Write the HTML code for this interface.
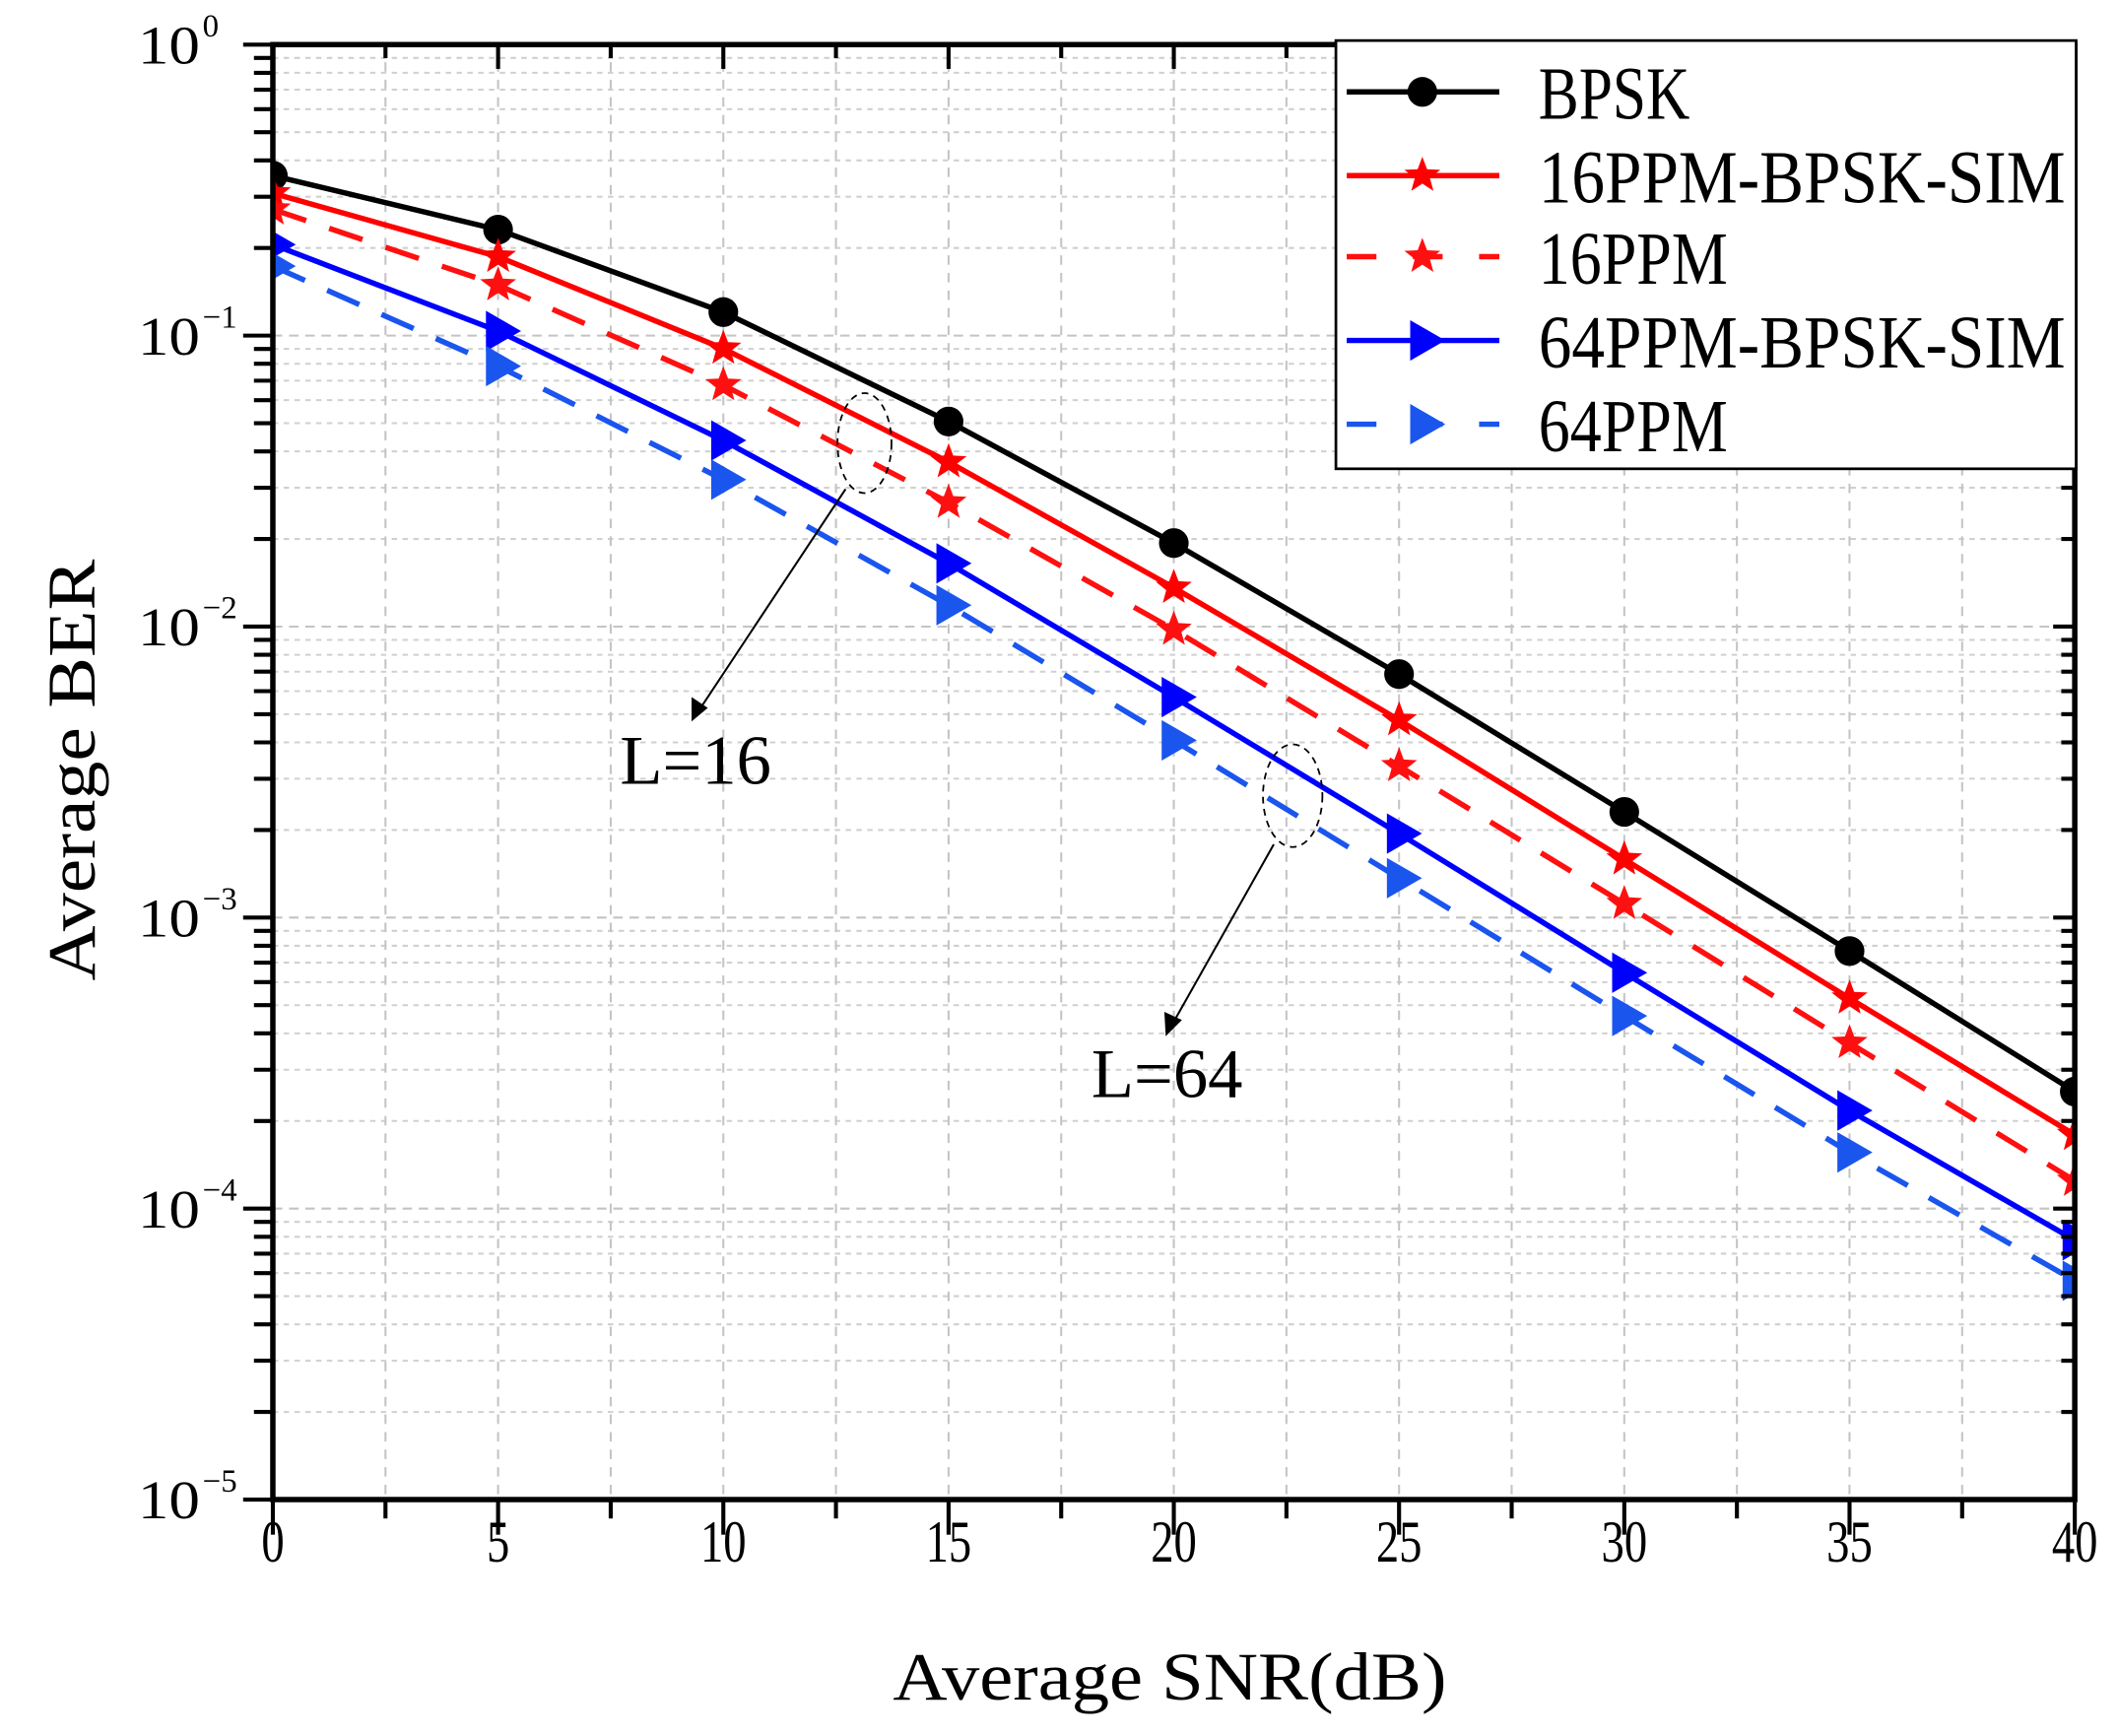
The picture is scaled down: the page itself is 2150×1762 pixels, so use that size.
<!DOCTYPE html>
<html><head><meta charset="utf-8"><style>
html,body{margin:0;padding:0;background:#fff}
svg{display:block}
text{font-family:"Liberation Serif",serif;fill:#000}
</style></head><body>
<svg id="s" xmlns="http://www.w3.org/2000/svg" width="2150" height="1762" viewBox="0 0 1568 1285">
<defs><clipPath id="cp"><rect x="202" y="33" width="1334" height="1077"/></clipPath></defs>
<g id="grid"></g>
<g id="series" clip-path="url(#cp)"></g>
<g id="axes"></g>
<g id="ann">
 <ellipse cx="640" cy="328" rx="20" ry="37" fill="none" stroke="#000" stroke-width="1.3" stroke-dasharray="5,4"/>
 <line x1="626" y1="362" x2="518" y2="525" stroke="#000" stroke-width="1.5"/>
 <polygon points="512,534 512,516 524,524" fill="#000"/>
 <text x="459" y="580" font-size="52" textLength="112" lengthAdjust="spacingAndGlyphs">L=16</text>
 <ellipse cx="957" cy="589" rx="22" ry="38" fill="none" stroke="#000" stroke-width="1.3" stroke-dasharray="5,4"/>
 <line x1="943" y1="625" x2="868" y2="758" stroke="#000" stroke-width="1.5"/>
 <polygon points="863,767 862,749 875,755" fill="#000"/>
 <text x="808" y="812" font-size="52" textLength="112" lengthAdjust="spacingAndGlyphs">L=64</text>
</g>
<g id="legend"></g>
</svg>
<script>
const NS="http://www.w3.org/2000/svg";
function el(p,t,a,txt){const e=document.createElementNS(NS,t);for(const k in a)e.setAttribute(k,a[k]);if(txt!==undefined)e.textContent=txt;document.getElementById(p).appendChild(e);return e;}
const X0=202,X1=1536,Y0=33,DEC=215.4;
const xp=v=>X0+(X1-X0)*v/40;
for(let d=0;d<5;d++){for(let m=2;m<=9;m++){const y=Y0+DEC*(d+1-Math.log10(m));
 el('grid','line',{x1:X0,x2:X1,y1:y,y2:y,stroke:'#d0d0d0','stroke-width':1.5,'stroke-dasharray':'4,4'});}
 if(d>0){const y=Y0+DEC*d;el('grid','line',{x1:X0,x2:X1,y1:y,y2:y,stroke:'#c4c4c4','stroke-width':1.5,'stroke-dasharray':'7,5'});}}
for(let i=1;i<16;i++){const x=xp(i*2.5);el('grid','line',{x1:x,x2:x,y1:Y0,y2:1110,stroke:'#c4c4c4','stroke-width':1.5,'stroke-dasharray':'7,6'});}
const xs=[0,5,10,15,20,25,30,35,40];
const S=[
 {c:'#000',d:false,m:'o',y:[130,170,231,312,402,499,601,704,808]},
 {c:'#ff0000',d:false,m:'s',y:[143,190,258,342,435,533,636,739,840]},
 {c:'#ff1010',d:true,m:'s',y:[155,211,285,372,466,567,669,772,874]},
 {c:'#0000ff',d:false,m:'t',y:[181,245,326,417,516,617,720,822,918]},
 {c:'#1a55ee',d:true,m:'t',y:[197,271,355,448,548,650,752,853,948]}];
function star(cx,cy,r){let p=[];for(let i=0;i<10;i++){const a=-Math.PI/2+i*Math.PI/5,rr=i%2?r*0.42:r;p.push((cx+rr*Math.cos(a)).toFixed(1)+','+(cy+rr*Math.sin(a)).toFixed(1));}return p.join(' ');}
function marker(g,m,cx,cy,c){
 if(m==='o')el(g,'circle',{cx:cx,cy:cy,r:11,fill:c});
 else if(m==='s')el(g,'polygon',{points:star(cx,cy,14),fill:c});
 else el(g,'polygon',{points:`${cx-9},${cy-15} ${cx+17},${cy} ${cx-9},${cy+15}`,fill:c});}
S.forEach(s=>{const pts=xs.map((x,i)=>xp(x)+','+s.y[i]).join(' ');
 const a={points:pts,fill:'none',stroke:s.c,'stroke-width':4};if(s.d)a['stroke-dasharray']='26,18';
 el('series','polyline',a);xs.forEach((x,i)=>marker('series',s.m,xp(x),s.y[i],s.c));});
el('axes','rect',{x:X0,y:Y0,width:X1-X0,height:1110-Y0,fill:'none',stroke:'#000','stroke-width':4});
for(let d=0;d<=5;d++){const y=Y0+DEC*d;el('axes','line',{x1:X0-22,x2:X0,y1:y,y2:y,stroke:'#000','stroke-width':3});
 el('axes','line',{x1:X1-16,x2:X1,y1:y,y2:y,stroke:'#000','stroke-width':3});
 if(d<5)for(let m=2;m<=9;m++){const yy=Y0+DEC*(d+1-Math.log10(m));
  el('axes','line',{x1:X0-14,x2:X0,y1:yy,y2:yy,stroke:'#000','stroke-width':3});
  el('axes','line',{x1:X1-10,x2:X1,y1:yy,y2:yy,stroke:'#000','stroke-width':3});}
 el('axes','text',{x:148,y:y+14,'font-size':40,'text-anchor':'end',textLength:46,lengthAdjust:'spacingAndGlyphs'},'10');
 el('axes','text',{x:150,y:y-6,'font-size':24},d===0?'0':'\u2212'+d);}
for(let i=0;i<=16;i++){const x=xp(i*2.5),maj=i%2===0;
 el('axes','line',{x1:x,x2:x,y1:1110,y2:maj?1136:1124,stroke:'#000','stroke-width':3});
 el('axes','line',{x1:x,x2:x,y1:Y0,y2:Y0+(maj?18:10),stroke:'#000','stroke-width':3});
 if(maj){const t=String(i*2.5);el('axes','text',{x:x,y:1156,'font-size':44,'text-anchor':'middle',textLength:t.length*17,lengthAdjust:'spacingAndGlyphs'},t);}}
el('axes','text',{x:866,y:1258,'font-size':50,'text-anchor':'middle',textLength:410,lengthAdjust:'spacingAndGlyphs'},'Average SNR(dB)');
el('axes','text',{x:0,y:0,'font-size':50,'text-anchor':'middle',textLength:312,lengthAdjust:'spacingAndGlyphs',transform:'translate(70,570) rotate(-90)'},'Average BER');
el('legend','rect',{x:989,y:30,width:548,height:317,fill:'#fff',stroke:'#000','stroke-width':2});
const L=[['BPSK',68,112],['16PPM-BPSK-SIM',130,390],['16PPM',190,140],['64PPM-BPSK-SIM',252,390],['64PPM',314,140]];
L.forEach((l,i)=>{const s=S[i],y=l[1];const a={x1:997,x2:1110,y1:y,y2:y,stroke:s.c,'stroke-width':4};
 if(s.d)a['stroke-dasharray']='22,27';el('legend','line',a);marker('legend',s.m,1053,y,s.c);
 el('legend','text',{x:1139,y:y+20,'font-size':56,textLength:l[2],lengthAdjust:'spacingAndGlyphs'},l[0]);});
</script>
</body></html>
